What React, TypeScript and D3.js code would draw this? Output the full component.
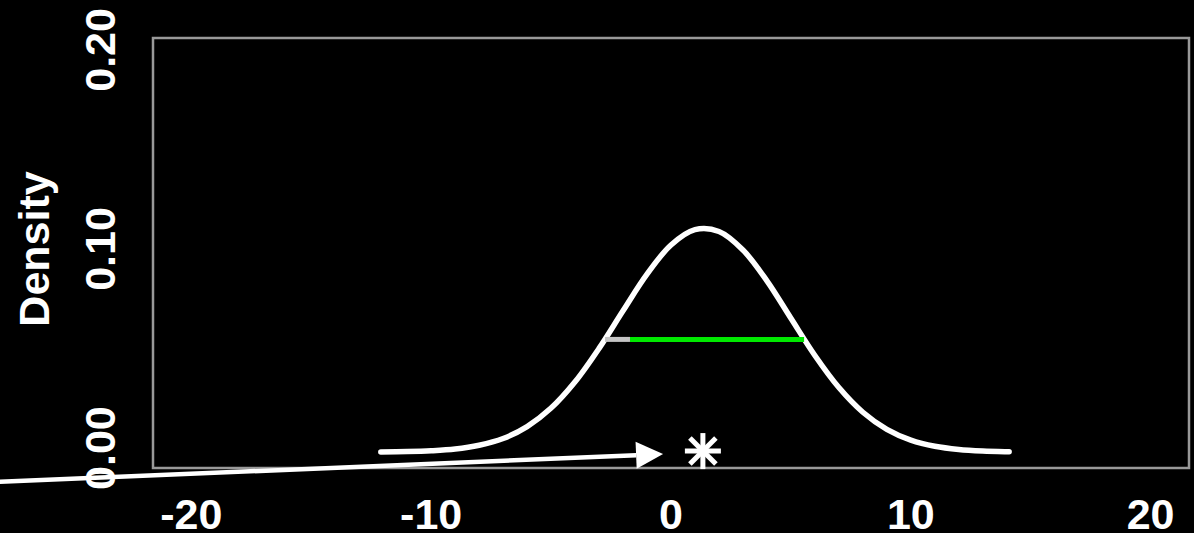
import React from "react";
import * as d3 from "d3";

// Density curve (x, density)
const curveX = [-12.1, -11, -10, -9, -8, -7, -6, -5, -4, -3, -2, -1, 0, 1, 2, 3, 4, 5, 6, 7, 8, 9, 10, 11, 12, 13, 14, 14.1];
const curveY = [0.00008, 0.00025, 0.00065, 0.0015, 0.0034, 0.0068, 0.0128, 0.0221, 0.0353, 0.0521, 0.071, 0.0894, 0.104, 0.1117, 0.1108, 0.1015, 0.086, 0.0672, 0.0485, 0.0324, 0.02, 0.0114, 0.006, 0.0029, 0.0013, 0.00054, 0.0002, 0.00018];

// Interval line at half maximum
const grayInterval = [-2.75, -1.71];
const greenInterval = [-1.71, 5.55];
const intervalDensity = 0.0566;

// Observed point (asterisk) and arrow
const starPoint = { x: 1.33, y: 0.0005 };
const arrowFrom = { x: -28.5, y: -0.0152 };
const arrowTo = { x: -0.33, y: -0.001 };

const xTicks = [-20, -10, 0, 10, 20];
const yTicks = [0, 0.1, 0.2];
const yTickLabels = ["0.00", "0.10", "0.20"];
const yTitle = "Density";

export default function App() {
  const W = 1194, H = 533;
  const x = d3.scaleLinear().domain([-21.6, 21.6]).range([153, 1189]);
  const y = d3.scaleLinear().domain([-0.008, 0.208]).range([468, 38]);

  const pts: [number, number][] = curveX.map((v, i) => [v, curveY[i]]);
  const line = d3
    .line<[number, number]>()
    .x((d) => x(d[0]))
    .y((d) => y(d[1]))
    .curve(d3.curveCatmullRom.alpha(0.5));

  // arrow geometry in pixel space
  const ax0 = x(arrowFrom.x), ay0 = y(arrowFrom.y);
  const ax1 = x(arrowTo.x), ay1 = y(arrowTo.y);
  const ang = Math.atan2(ay1 - ay0, ax1 - ax0);
  const headLen = 27, headHalf = 13.5;
  const bx = ax1 - headLen * Math.cos(ang), by = ay1 - headLen * Math.sin(ang);
  const px = -Math.sin(ang), py = Math.cos(ang);
  const head = `${ax1},${ay1} ${bx + headHalf * px},${by + headHalf * py} ${bx - headHalf * px},${by - headHalf * py}`;

  const sx = x(starPoint.x), sy = y(starPoint.y);
  const armH = 18, armD = 13;

  const font = "'Liberation Sans', Arial, Helvetica, sans-serif";

  return (
    <svg
      width={W}
      height={H}
      style={{ position: "absolute", left: 0, top: 0, background: "#000" }}
    >
      <rect x={0} y={0} width={W} height={H} fill="#000" />
      {/* plot box */}
      <rect x={153} y={38} width={1036} height={430} fill="none" stroke="#999" strokeWidth={2.5} />

      {/* density curve */}
      <path d={line(pts) || ""} fill="none" stroke="#fff" strokeWidth={5.5} strokeLinecap="round" strokeLinejoin="round" />

      {/* interval */}
      <line x1={x(grayInterval[0])} x2={x(grayInterval[1])} y1={y(intervalDensity)} y2={y(intervalDensity)} stroke="#c4c4c4" strokeWidth={5} />
      <line x1={x(greenInterval[0])} x2={x(greenInterval[1])} y1={y(intervalDensity)} y2={y(intervalDensity)} stroke="#00e800" strokeWidth={5} />

      {/* asterisk */}
      <g stroke="#fff" strokeWidth={5} strokeLinecap="butt">
        <line x1={sx - armH} x2={sx + armH} y1={sy} y2={sy} />
        <line x1={sx} x2={sx} y1={sy - armH} y2={sy + armH} />
        <line x1={sx - armD} x2={sx + armD} y1={sy - armD} y2={sy + armD} />
        <line x1={sx - armD} x2={sx + armD} y1={sy + armD} y2={sy - armD} />
      </g>

      {/* arrow */}
      <line x1={ax0} y1={ay0} x2={bx} y2={by} stroke="#fff" strokeWidth={4.5} />
      <polygon points={head} fill="#fff" />

      {/* x tick labels */}
      {xTicks.map((t) => (
        <text key={t} x={x(t)} y={529} fill="#fff" fontFamily={font} fontWeight="bold" fontSize={43} textAnchor="middle">
          {t}
        </text>
      ))}

      {/* y tick labels */}
      {yTicks.map((t, i) => (
        <text
          key={t}
          transform={`translate(115,${y(t) - 4}) rotate(-90)`}
          fill="#fff"
          fontFamily={font}
          fontWeight="bold"
          fontSize={43}
          textAnchor="middle"
        >
          {yTickLabels[i]}
        </text>
      ))}

      {/* y title */}
      <text
        transform={`translate(49,${(y(0.1) - 4)}) rotate(-90)`}
        fill="#fff"
        fontFamily={font}
        fontWeight="bold"
        fontSize={43}
        textAnchor="middle"
      >
        {yTitle}
      </text>
    </svg>
  );
}
